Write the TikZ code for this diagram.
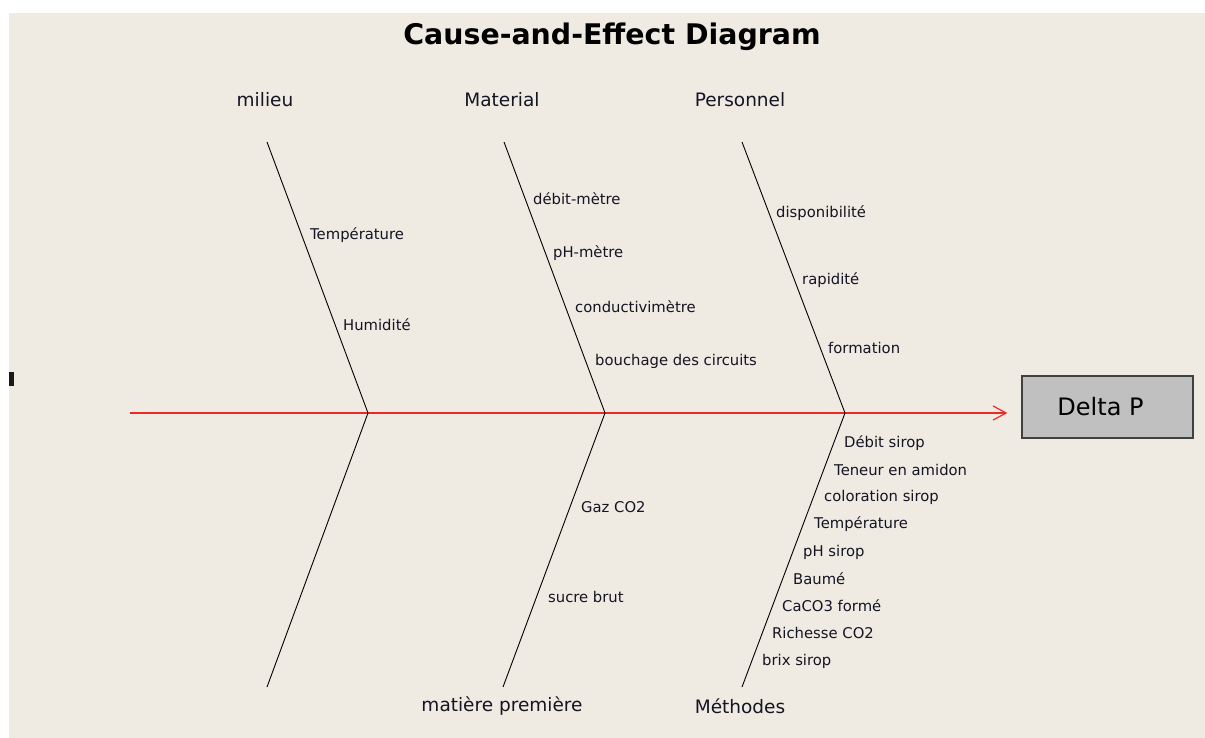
\documentclass[tikz,border=0pt]{standalone}
\usepackage{fontspec}
\setmainfont{DejaVu Sans}
\usetikzlibrary{arrows.meta}
\definecolor{bg}{RGB}{239,235,226}
\definecolor{txt}{RGB}{20,20,35}
\definecolor{boxgray}{RGB}{192,192,192}
\definecolor{boxline}{RGB}{64,64,64}
\definecolor{spinered}{RGB}{240,40,40}
\tikzset{
  bone/.style={draw=black, line width=0.9pt},
  spine/.style={draw=spinered, line width=1.2pt, -{Straight Barb[length=13pt,width=14pt,line width=1.2pt]}},
  cause/.style={anchor=west, inner sep=0pt, text=txt, font=\fontsize{14.8}{16}\selectfont},
  cat/.style={anchor=center, inner sep=0pt, text=txt, font=\fontsize{18.5}{21}\selectfont},
  effect/.style={draw=boxline, line width=1.3pt, fill=boxgray, minimum width=171pt, minimum height=62pt, inner sep=0pt, text=black, font=\fontsize{24}{28}\selectfont},
  titlestyle/.style={anchor=center, inner sep=0pt, font=\fontsize{28.4}{32}\selectfont\bfseries}
}
\begin{document}
\begin{tikzpicture}[x=1pt,y=-1pt]
\useasboundingbox (0,0) rectangle (1205,738);
\fill[white] (0,0) rectangle (1205,738);
\fill[bg] (9,13) rectangle (1205,738);
\fill[black!90] (9,372) rectangle (14,386);
% title
\node[titlestyle] (title) at (612,37) {Cause-and-Effect Diagram};
% effect box
\node[effect] (effect) at (1107.5,407) {\hspace*{-14pt}Delta P};
% spine
\coordinate (tail) at (130,413);
\draw[spine, shorten >=14pt] (tail) -- (tail -| effect.west);
% bone coordinates
\coordinate (j1) at (368,413);
\coordinate (t1) at (267,142);
\coordinate (b1) at (267,687);
\coordinate (j2) at (605,413);
\coordinate (t2) at (504,142);
\coordinate (b2) at (503,687);
\coordinate (j3) at (845,413);
\coordinate (t3) at (742,142);
\coordinate (b3) at (742,687);
\draw[bone] (t1) -- (j1) -- (b1);
\draw[bone] (t2) -- (j2) -- (b2);
\draw[bone] (t3) -- (j3) -- (b3);
% category labels
\node[cat] (milieu) at (265,100) {milieu};
\node[cat] (material) at (502,100) {Material};
\node[cat] (personnel) at (740,100) {Personnel};
\node[cat] (matiere) at (502,706) {matière première};
\node[cat] (methodes) at (740,706) {Méthodes};
% causes: milieu
\node[cause] (c11) at (310,235) {Température};
\node[cause] (c12) at (343,325) {Humidité};
% causes: Material
\node[cause] (c21) at (533,199) {débit-mètre};
\node[cause] (c22) at (553,253) {pH-mètre};
\node[cause] (c23) at (575,307) {conductivimètre};
\node[cause] (c24) at (595,361) {bouchage des circuits};
% causes: Personnel
\node[cause] (c31) at (776,213) {disponibilité};
\node[cause] (c32) at (802,280) {rapidité};
\node[cause] (c33) at (828,348) {formation};
% causes: matière première
\node[cause] (c41) at (581,507) {Gaz CO2};
\node[cause] (c42) at (548,597) {sucre brut};
% causes: Méthodes
\node[cause] (c51) at (844,443) {Débit sirop};
\node[cause] (c52) at (834,470) {Teneur en amidon};
\node[cause] (c53) at (824,497) {coloration sirop};
\node[cause] (c54) at (814,524) {Température};
\node[cause] (c55) at (803,552) {pH sirop};
\node[cause] (c56) at (793,579) {Baumé};
\node[cause] (c57) at (782,606) {CaCO3 formé};
\node[cause] (c58) at (772,633) {Richesse CO2};
\node[cause] (c59) at (762,661) {brix sirop};
\end{tikzpicture}
\end{document}
